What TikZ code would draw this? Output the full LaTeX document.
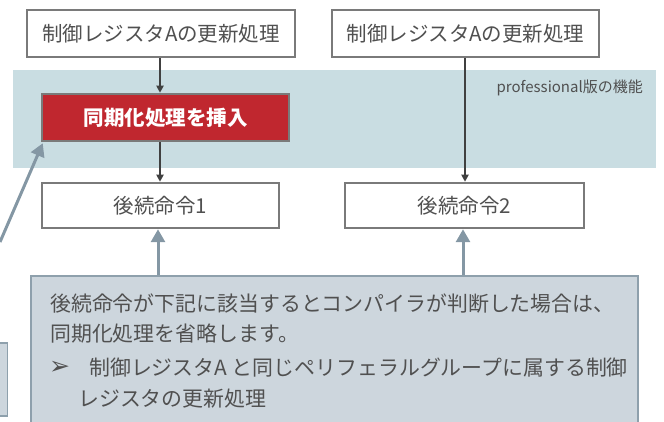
\documentclass[tikz,border=0pt]{standalone}
\usepackage{fontspec}
\setmainfont{Noto Sans CJK JP}
\newfontfamily\symfont{DejaVu Sans}
\usetikzlibrary{arrows.meta}
\definecolor{txt}{HTML}{505050}
\definecolor{boxline}{HTML}{7A7A7A}
\definecolor{band}{HTML}{C9DDE2}
\definecolor{syncred}{HTML}{C0272F}
\definecolor{callfill}{HTML}{CDD6DD}
\definecolor{callline}{HTML}{8EA0AC}
\definecolor{bluearrow}{HTML}{8497A4}
\definecolor{darkarrow}{HTML}{404040}
\tikzset{
  plainbox/.style={draw=boxline, line width=2.5pt, fill=white, text=txt, inner sep=0pt, font=\fontsize{20.5}{24}\selectfont},
  darkflow/.style={draw=darkarrow, line width=2pt, -{Triangle[length=7pt,width=7pt]}},
  blueflow/.style={draw=bluearrow, line width=3pt, -{Triangle[length=13pt,width=14pt]}},
  calltext/.style={anchor=west, inner sep=0pt, text=txt, font=\fontsize{20.9}{24}\selectfont},
}
\begin{document}
\begin{tikzpicture}[x=1pt,y=-1pt]
\useasboundingbox (0,0) rectangle (664,422);
\clip (0,0) rectangle (664,422);
% band
\fill[band] (13,70) rectangle (656,168);
\node[anchor=east, inner sep=0pt, text=txt, font=\fontsize{15}{18}\selectfont] (label) at (643,88) {professional版の機能};
% top boxes
\node[plainbox, minimum width=268pt, minimum height=47pt] (top1) at (161,33.5) {制御レジスタAの更新処理};
\node[plainbox, minimum width=267pt, minimum height=47pt] (top2) at (465.5,33.5) {制御レジスタAの更新処理};
% sync box
\node[draw=boxline, line width=2.5pt, fill=syncred, text=white, inner sep=0pt, minimum width=247pt, minimum height=47pt, font=\fontsize{20.5}{24}\selectfont\bfseries] (sync) at (165.5,117.5) {同期化処理を挿入};
% next boxes
\node[plainbox, minimum width=237pt, minimum height=45pt] (next1) at (160.5,205.5) {後続命令1};
\node[plainbox, minimum width=239pt, minimum height=45pt] (next2) at (464.5,205.5) {後続命令2};
% dark arrows
\draw[darkflow] (top1.south -| 160,0) -- (sync.north -| 160,0);
\draw[darkflow] (sync.south -| 160,0) -- (next1.north -| 160,0);
\draw[darkflow] (top2.south -| 465,0) -- (next2.north -| 465,0);
% callout
\node[draw=callline, line width=1.5pt, fill=callfill, anchor=north west, minimum width=607pt, minimum height=170pt, inner sep=0pt] (callout) at (30,275) {};
\node[calltext] (l1) at (50,304) {後続命令が下記に該当するとコンパイラが判断した場合は、};
\node[calltext] (l2) at (50,334) {同期化処理を省略します。};
\node[calltext] (b3) at (49,368) {\symfont\fontsize{25}{28}\selectfont ➢};
\node[calltext] (l3) at (89,368) {制御レジスタA と同じペリフェラルグループに属する制御};
\node[calltext] (l4) at (78,399) {レジスタの更新処理};
% blue arrows
\draw[blueflow] (callout.north -| 158,0) -- (next1.south -| 158,0);
\draw[blueflow] (callout.north -| 463,0) -- (next2.south -| 463,0);
% bottom-left partial box
\node[draw=callline, line width=1.5pt, fill=callfill, anchor=north east, minimum width=30pt, minimum height=73pt, inner sep=0pt] (leftbox) at (8,342) {};
\coordinate (lstart) at (0,242);
\draw[blueflow] (lstart) -- ([xshift=2pt,yshift=-1pt]sync.south west);
\end{tikzpicture}
\end{document}
